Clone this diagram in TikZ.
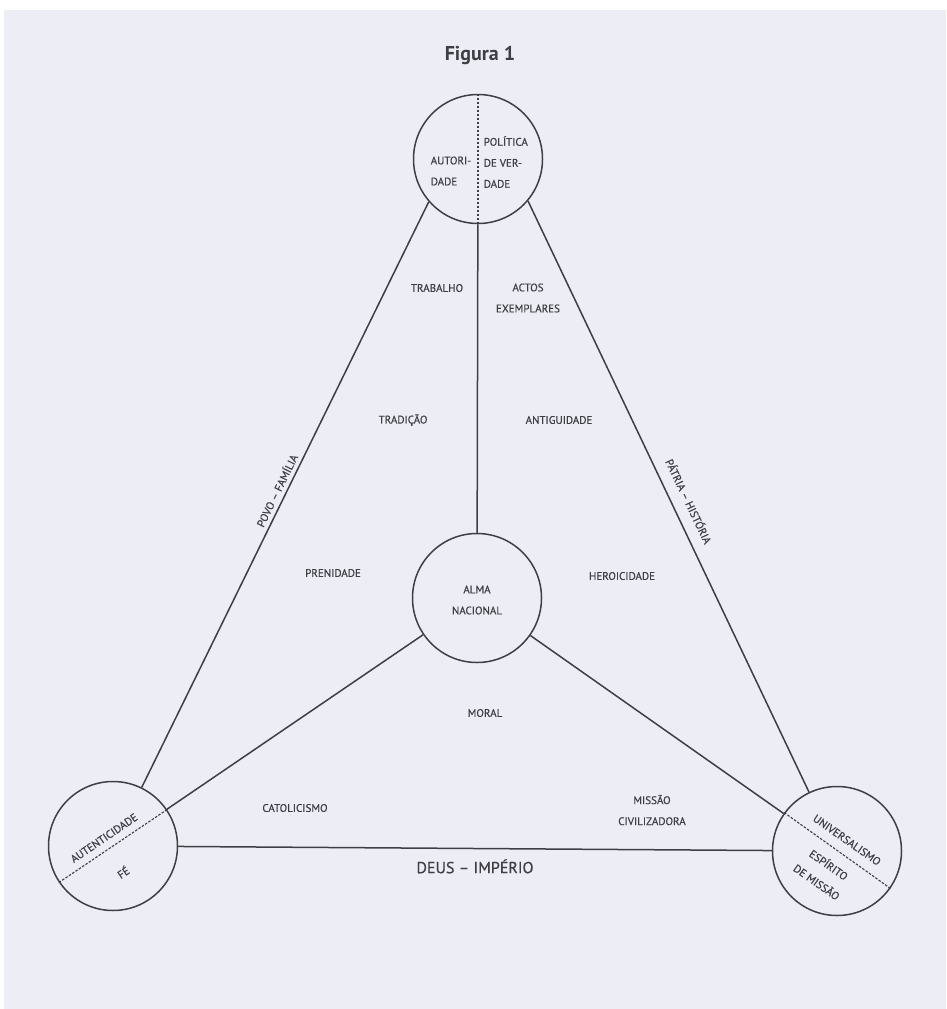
\documentclass[tikz,border=0pt]{standalone}
\usepackage{fontspec}
\setmainfont{PT Sans}
\newfontfamily\lblfont{PT Sans}[FakeBold=0.5]
\usepackage{xcolor}
\definecolor{pageColor}{RGB}{237,237,245}
\definecolor{inkColor}{RGB}{62,62,68}
\usepackage{tikz}

\begin{document}
\begin{tikzpicture}[x=1pt,y=-1pt,line width=1.5pt,color=inkColor,
  circ/.style={circle,draw,minimum size=129pt,inner sep=0pt},
  split/.style={dash pattern=on 2.5pt off 1.5pt,line width=1.1pt},
  lbl/.style={inner sep=0pt,font=\lblfont\fontsize{11}{21}\selectfont}]
\fill[white] (0,0) rectangle (946,1009);
\fill[pageColor] (4,10) rectangle (946,1009);
\useasboundingbox (0,0) rectangle (946,1009);
%
\node[font=\fontsize{20}{24}\selectfont\bfseries] (titulo) at (480,55) {Figura 1};
%
\node[circ] (politica) at (478,159) {};
\node[circ] (alma) at (477,598) {};
\node[circ] (fe) at (113,846) {};
\node[circ] (universal) at (837,851) {};
%
\draw (politica.221) -- node[lbl,sloped,above=4pt] {POVO – FAMÍLIA} (fe);
\draw (politica.-40) -- node[lbl,sloped,above=11pt,pos=0.52] {PÁTRIA – HISTÓRIA} (universal);
\draw (fe) -- node[lbl,below=10pt,font=\lblfont\fontsize{16}{19}\selectfont] {DEUS – IMPÉRIO} (universal);
\draw (politica) -- (alma);
\draw (alma) -- (fe);
\draw (alma) -- (universal);
%
\draw[split] (politica.90) -- (politica.-90);
\draw[split] (fe.34.3) -- (fe.214.3);
\draw[split] (universal.144.9) -- (universal.-35.1);
%
\node[lbl,align=left,anchor=west] (autoridade) at (430,171) {AUTORI-\\DADE};
\node[lbl,align=left,anchor=west] (verdade) at (483,162) {POLÍTICA\\DE VER-\\DADE};
\node[lbl] (trabalho) at (437,288) {TRABALHO};
\node[lbl,align=center] (actos) at (528,298) {ACTOS\\EXEMPLARES};
\node[lbl] (tradicao) at (403,420) {TRADIÇÃO};
\node[lbl] (antiguidade) at (559,420) {ANTIGUIDADE};
\node[lbl] (prenidade) at (333,573) {PRENIDADE};
\node[lbl] (heroicidade) at (622,576) {HEROICIDADE};
\node[lbl,align=center] (nacional) at (477,600) {ALMA\\NACIONAL};
\node[lbl] (moral) at (485,713) {MORAL};
\node[lbl] (catolicismo) at (295,808) {CATOLICISMO};
\node[lbl,align=center] (civilizadora) at (652,810) {MISSÃO\\CIVILIZADORA};
\node[lbl,rotate=34.3] (autenticidade) at (104,838) {AUTENTICIDADE};
\node[lbl,rotate=34.3] (fetxt) at (123,872) {FÉ};
\node[lbl,rotate=-35.1] (universalismo) at (847,840) {UNIVERSALISMO};
\node[lbl,rotate=-35.1,align=center] (espirito) at (823,873) {ESPÍRITO\\DE MISSÃO};
\end{tikzpicture}
\end{document}
